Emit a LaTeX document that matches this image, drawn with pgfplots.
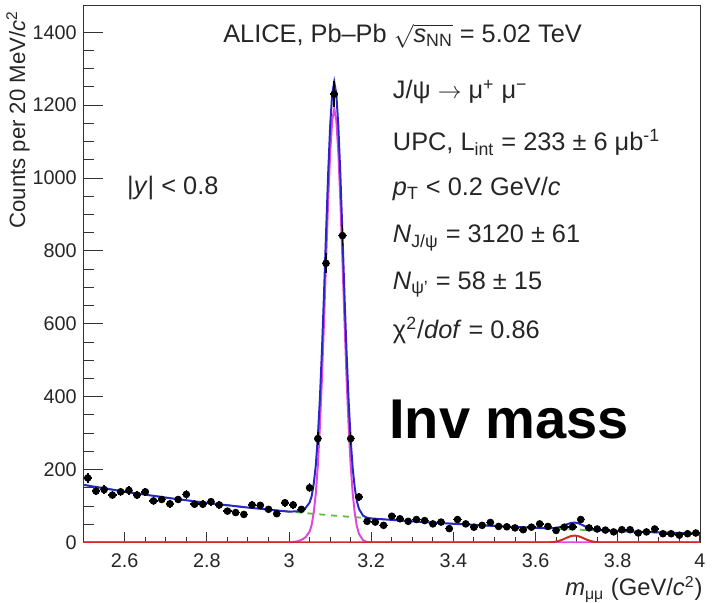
\documentclass[border=0pt]{standalone}
\usepackage{fontspec}
\setmainfont{Liberation Sans}
\usepackage{pgfplots}
\usepackage{pgfplotstable}
\pgfplotsset{compat=1.18}

\definecolor{fitblue}{RGB}{40,40,200}
\definecolor{fitmag}{RGB}{225,70,225}
\definecolor{fitgreen}{RGB}{90,190,60}
\definecolor{fitred}{RGB}{215,40,40}

% counts per 20 MeV bin: centre, counts, half bin width, stat. error
\pgfplotstableread{
x    y     ex    ey
2.51 177   0.01  13.3
2.53 141   0.01  11.9
2.55 145   0.01  12.0
2.57 130   0.01  11.4
2.59 139   0.01  11.8
2.61 143   0.01  12.0
2.63 130   0.01  11.4
2.65 139   0.01  11.8
2.67 114   0.01  10.7
2.69 118   0.01  10.9
2.71 106   0.01  10.3
2.73 118   0.01  10.9
2.75 132   0.01  11.5
2.77 105   0.01  10.2
2.79 105   0.01  10.2
2.81 112   0.01  10.6
2.83 103   0.01  10.1
2.85 86    0.01  9.3
2.87 82    0.01  9.1
2.89 77    0.01  8.8
2.91 103   0.01  10.1
2.93 102   0.01  10.1
2.95 91    0.01  9.5
2.97 79    0.01  8.9
2.99 109   0.01  10.4
3.01 103   0.01  10.1
3.03 91    0.01  9.5
3.05 150   0.01  12.2
3.07 285   0.01  16.9
3.09 766   0.01  27.7
3.11 1230  0.01  35.1
3.13 842   0.01  29.0
3.15 285   0.01  16.9
3.17 125   0.01  11.2
3.19 58    0.01  7.6
3.21 56    0.01  7.5
3.23 47    0.01  6.9
3.25 72    0.01  8.5
3.27 65    0.01  8.1
3.29 58    0.01  7.6
3.31 63    0.01  7.9
3.33 60    0.01  7.7
3.35 51    0.01  7.1
3.37 56    0.01  7.5
3.39 38    0.01  6.2
3.41 63    0.01  7.9
3.43 51    0.01  7.1
3.45 42    0.01  6.5
3.47 47    0.01  6.9
3.49 55    0.01  7.4
3.51 44    0.01  6.6
3.53 43    0.01  6.6
3.55 40    0.01  6.3
3.57 35    0.01  5.9
3.59 42    0.01  6.5
3.61 51    0.01  7.1
3.63 44    0.01  6.6
3.65 33    0.01  5.7
3.67 42    0.01  6.5
3.69 43    0.01  6.6
3.71 63    0.01  7.9
3.73 40    0.01  6.3
3.75 37    0.01  6.1
3.77 34    0.01  5.8
3.79 29    0.01  5.4
3.81 35    0.01  5.9
3.83 35    0.01  5.9
3.85 26    0.01  5.1
3.87 29    0.01  5.4
3.89 37    0.01  6.1
3.91 24    0.01  4.9
3.93 24    0.01  4.9
3.95 20    0.01  4.5
3.97 24    0.01  4.9
3.99 26    0.01  5.1
}\invmass

\begin{document}
\begin{tikzpicture}
\begin{axis}[
    width=311.25pt, height=271.5pt, scale only axis,
    xmin=2.5, xmax=4, ymin=0, ymax=1475,
    xtick={2.6,2.8,3,3.2,3.4,3.6,3.8,4},
    ytick={0,200,400,600,800,1000,1200,1400},
    minor x tick num=3, minor y tick num=3,
    tick align=inside, tick pos=left,
    axis line style={draw=black!80},
    tick style={black!80, line width=0.5pt},
    xtick style={/pgfplots/major tick length=5.5pt, /pgfplots/minor tick length=3pt},
    ytick style={/pgfplots/major tick length=10pt, /pgfplots/minor tick length=5pt},
    tick label style={font=\fontsize{10}{12}\selectfont, text=black!85},
    xticklabel style={yshift=-2pt},
    /pgf/number format/assume math mode=true,
    /pgf/number format/1000 sep={},
    xlabel={\textit{m}\textsubscript{μμ} (GeV/\textit{c}\textsuperscript{2})},
    xlabel style={at={(rel axis cs:1.005,-0.081)}, anchor=base east, inner sep=0pt,
                  yshift=-5pt, font=\fontsize{12}{14}\selectfont, text=black!85},
    ylabel={Counts per 20 MeV/\textit{c}\textsuperscript{2}},
    ylabel style={at={(rel axis cs:-0.087,0.99)}, anchor=south east, inner sep=0pt,
                  font=\fontsize{11.2}{13}\selectfont, text=black!85},
]
% background
\addplot[fitgreen, line width=0.9pt, dashed] coordinates {
(2.5,158) (2.6,139.4) (2.7,123.1) (2.8,108.6) (2.9,95.8) (3.0,84.6) (3.1,74.6)
(3.2,65.9) (3.3,58.1) (3.4,51.3) (3.5,45.3) (3.6,39.9) (3.7,35.2) (3.8,31.1)
(3.9,27.5) (4.0,24.2)};
% J/psi signal
\addplot[fitmag, line width=1pt] coordinates {
(2.5,0) (3.0,0) (3.02,3) (3.03,7) (3.04,14) (3.05,30) (3.055,48) (3.06,82)
(3.065,133) (3.07,211) (3.075,317) (3.08,450) (3.085,605) (3.09,772) (3.095,933)
(3.1,1068) (3.105,1158) (3.11,1190) (3.115,1158) (3.12,1068) (3.125,933)
(3.13,772) (3.135,605) (3.14,450) (3.145,317) (3.15,211) (3.155,133) (3.16,80)
(3.165,45) (3.17,24) (3.18,6) (3.19,1.2) (3.2,0) (4,0)};
% total fit
\addplot[fitblue, line width=1pt] coordinates {
(2.5,158) (2.6,139.4) (2.7,123.1) (2.8,108.6) (2.9,95.8) (3.0,84.6) (3.02,85.5)
(3.03,88.5) (3.04,94.4) (3.05,109.4) (3.055,127) (3.06,160.5) (3.065,211)
(3.07,288.5) (3.075,394) (3.08,526.5) (3.085,681) (3.09,847.6) (3.095,1008)
(3.1,1142.6) (3.105,1232) (3.11,1263.7) (3.115,1231) (3.12,1140.8) (3.125,1005)
(3.13,844) (3.135,676) (3.14,521) (3.145,387.5) (3.15,281) (3.155,202.7)
(3.16,149.2) (3.165,113.8) (3.17,92.4) (3.18,73.5) (3.19,67.9) (3.2,65.9)
(3.3,58.1) (3.4,51.3) (3.5,45.3) (3.6,39.9) (3.625,38.9) (3.645,39.3)
(3.655,41.1) (3.665,44.5) (3.675,49.2) (3.685,53.3) (3.695,54.7) (3.705,52.4)
(3.715,47.4) (3.725,41.9) (3.735,37.6) (3.745,34.9) (3.765,32.7) (3.8,31.1)
(3.9,27.5) (4.0,24.2)};
% psi(2S) signal
\addplot[fitred, line width=1pt] coordinates {
(2.5,0) (3.625,0) (3.635,0.5) (3.645,1.4) (3.655,3.6) (3.665,7.5) (3.675,12.6)
(3.685,17.1) (3.695,19) (3.705,17.1) (3.715,12.6) (3.725,7.5) (3.735,3.6)
(3.745,1.4) (3.755,0.5) (3.765,0) (4,0)};
% data
\addplot[only marks, mark=*, mark size=1.7pt, black,
    error bars/.cd, x dir=both, x explicit, y dir=both, y explicit,
    error bar style={black, line width=0.8pt}, error mark=none]
    table[x=x, y=y, x error=ex, y error=ey] {\invmass};

\node[anchor=base west, inner sep=0pt, font=\fontsize{12.8}{15}\selectfont, text=black!85]
  at (axis cs:2.839,1372) {ALICE, Pb–Pb $\sqrt{\mbox{\textit{s}\textsubscript{NN}}}$ = 5.02 TeV};
\begin{scope}[every node/.style={anchor=base west, inner sep=0pt,
    font=\fontsize{12.8}{15}\selectfont, text=black!85}]
\node at (axis cs:3.252,1217) {J/ψ $\rightarrow$ μ\textsuperscript{+} μ\textsuperscript{−}};
\node at (axis cs:3.252,1076) {UPC, L\textsubscript{int} = 233 ± 6 μb\textsuperscript{-1}};
\node at (axis cs:3.252,951) {\textit{p}\textsubscript{T} < 0.2 GeV/\textit{c}};
\node at (axis cs:3.252,823) {\textit{N}\textsubscript{J/ψ} = 3120 ± 61};
\node at (axis cs:3.252,693) {\textit{N}\textsubscript{ψ'} = 58 ± 15};
\node at (axis cs:3.252,560) {χ\textsuperscript{2}/\textit{dof} = 0.86};
\node at (axis cs:2.605,956) {|\textit{y}| < 0.8};
\end{scope}
\node[anchor=base west, inner sep=0pt, font=\fontsize{28.3}{32}\selectfont\bfseries]
  at (axis cs:3.243,285) {Inv mass};
\end{axis}
\useasboundingbox ([shift={(-42.25pt,-29pt)}]current axis.south west)
  rectangle ([shift={(2.5pt,2.5pt)}]current axis.north east);
\end{tikzpicture}
\end{document}
